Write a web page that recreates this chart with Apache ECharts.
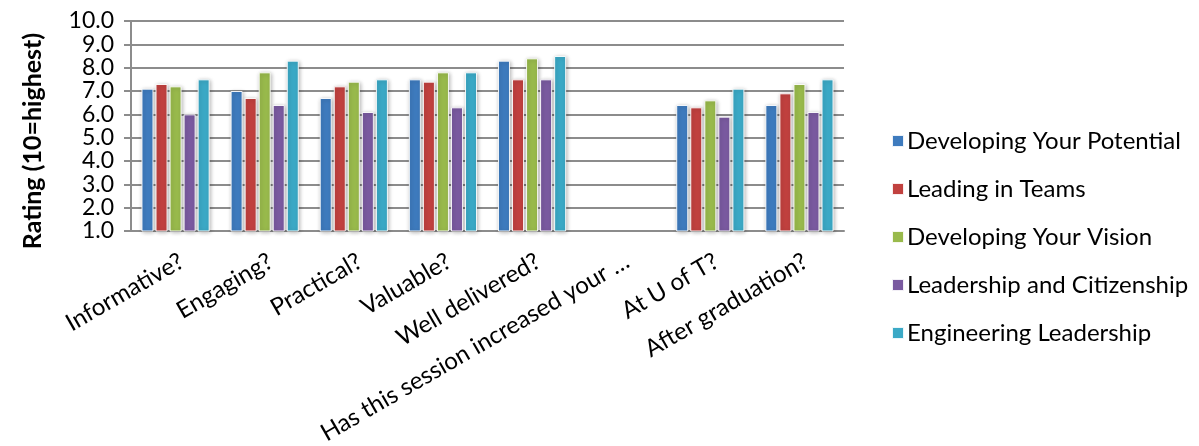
<!DOCTYPE html>
<html>
<head>
<meta charset="utf-8">
<script src="https://cdn.jsdelivr.net/npm/echarts/dist/echarts.min.js"></script>
<style>
  html, body { margin: 0; padding: 0; background: #fff; }
  #chart { width: 1199px; height: 446px; }
</style>
</head>
<body>
<div id="chart"></div>
<script>
// Session survey questions (category axis)
const questions = [
  'Informative?', 'Engaging?', 'Practical?', 'Valuable?', 'Well delivered?',
  'Has this session increased your \u2026', 'At U of T?', 'After graduation?'
];

// Average rating per workshop, one value per question
const developingYourPotential = [7.1, 7.0, 6.7, 7.5, 8.3, null, 6.4, 6.4];
const leadingInTeams          = [7.3, 6.7, 7.2, 7.4, 7.5, null, 6.3, 6.9];
const developingYourVision    = [7.2, 7.8, 7.4, 7.8, 8.4, null, 6.6, 7.3];
const leadershipCitizenship   = [6.0, 6.4, 6.1, 6.3, 7.5, null, 5.9, 6.1];
const engineeringLeadership   = [7.5, 8.3, 7.5, 7.8, 8.5, null, 7.1, 7.5];

const seriesNames = [
  'Developing Your Potential', 'Leading in Teams', 'Developing Your Vision',
  'Leadership and Citizenship', 'Engineering Leadership'
];
const seriesValues = [
  developingYourPotential, leadingInTeams, developingYourVision,
  leadershipCitizenship, engineeringLeadership
];
const palette = ['#3E7BBE', '#C1413F', '#99BA4C', '#7A5AA0', '#3BA9C6'];

// Value axis range
const ratingMin = 1;
const ratingMax = 10;
const ratingStep = 1;

const font = 'Lato, "Open Sans", sans-serif';

const chart = echarts.init(document.getElementById('chart'), null, { renderer: 'canvas' });

chart.setOption({
  animation: false,
  color: palette,
  grid: {
    left: 131, right: 355, top: 21, bottom: 215,
    containLabel: false,
    outerBoundsMode: 'none'
  },
  legend: {
    orient: 'vertical',
    left: 886,
    top: 123,
    itemWidth: 12,
    itemHeight: 12,
    itemGap: 22,
    icon: 'rect',
    textStyle: { fontFamily: font, fontSize: 24, color: '#000', lineHeight: 26, padding: [0, 0, 0, -2] },
    data: seriesNames
  },
  xAxis: {
    type: 'category',
    data: questions,
    axisLine: { show: true, lineStyle: { color: '#8c8c8c', width: 2 } },
    axisTick: { show: false },
    axisLabel: {
      interval: 0,
      rotate: 30,
      margin: 18,
      verticalAlign: 'top',
      hideOverlap: false,
      fontFamily: font,
      fontSize: 24,
      color: '#000'
    }
  },
  yAxis: {
    type: 'value',
    min: ratingMin,
    max: ratingMax,
    interval: ratingStep,
    name: 'Rating (10=highest)',
    nameLocation: 'middle',
    nameGap: 86,
    nameTextStyle: { fontFamily: font, fontSize: 25, fontWeight: 'bold', color: '#000', padding: [0, 30, 0, 0] },
    axisLine: { show: true, lineStyle: { color: '#8c8c8c', width: 2 } },
    axisTick: { show: true, length: 7, lineStyle: { color: '#8c8c8c', width: 2 } },
    axisLabel: {
      margin: 17,
      showMinLabel: true,
      showMaxLabel: true,
      hideOverlap: false,
      fontFamily: font,
      fontSize: 23,
      lineHeight: 22,
      color: '#000',
      formatter: v => v.toFixed(1)
    },
    splitLine: { show: true, lineStyle: { color: '#8c8c8c', width: 2 } }
  },
  series: seriesNames.map((name, i) => ({
    name,
    type: 'bar',
    data: seriesValues[i],
    barWidth: 12,
    barGap: '17%',
    itemStyle: {
      borderColor: 'rgba(255,255,255,0.9)',
      borderWidth: 1,
      shadowColor: 'rgba(0,0,0,0.3)',
      shadowBlur: 4,
      shadowOffsetX: 1,
      shadowOffsetY: 1
    }
  }))
});
</script>
</body>
</html>
